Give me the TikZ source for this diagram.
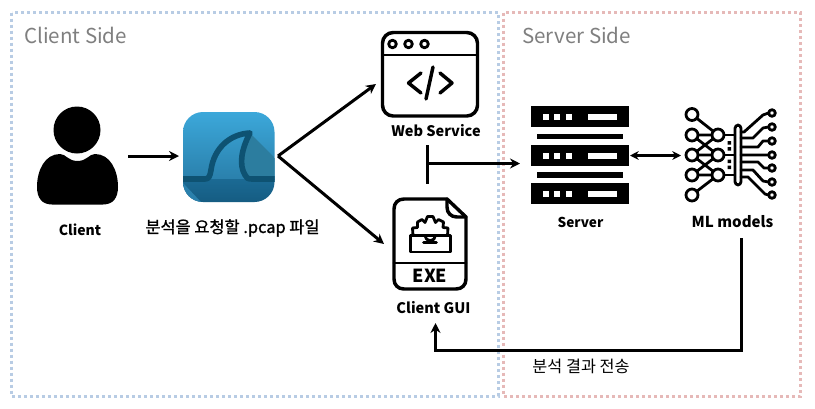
\documentclass[tikz,border=0pt]{standalone}
\usepackage{fontspec}
\setmainfont{Noto Sans CJK KR}
\newfontfamily\kofont[FakeBold=1.2]{Noto Sans CJK KR}
\definecolor{blueb}{HTML}{B8CCE4}
\definecolor{redb}{HTML}{E6B9B8}
\definecolor{titlegray}{HTML}{7F7F7F}
\definecolor{sharktop}{HTML}{3CA8DA}
\definecolor{sharkmid}{HTML}{2A80AC}
\definecolor{sharkbot}{HTML}{155C82}
\definecolor{sharkbotb}{HTML}{1B6A94}
\definecolor{sharkline}{HTML}{0E5272}
\definecolor{sharkshade}{HTML}{2C7D9F}
\usetikzlibrary{arrows.meta}
\tikzset{
  x=0.75pt,y=-0.75pt,
  zone/.style={line width=2.25pt,dash pattern=on 2.25pt off 2.25pt},
  ztitle/.style={text=titlegray,font=\fontsize{15.4}{15}\selectfont,inner sep=0,anchor=west},
  lbl/.style={font=\fontsize{#1}{12}\selectfont\bfseries,inner sep=0,text=black},
  conn/.style={line width=2.25pt,-{Stealth[length=7.5pt,width=7.5pt]}},
  plain/.style={line width=2.25pt},
  icon/.style={line width=2.6pt,line join=round,line cap=round},
  thinicon/.style={line width=2.1pt,line join=round,line cap=round},
}
\begin{document}
\begin{tikzpicture}
\useasboundingbox (0,0) rectangle (815,408);
\fill[white] (0,0) rectangle (815,408);
% zones
\draw[zone,blueb] (11.5,12.5) rectangle (498,396);
\draw[zone,redb] (503.5,12.5) rectangle (800.5,396);
\node[ztitle] (clientside) at (24,35) {Client Side};
\node[ztitle] (serverside) at (522,35) {Server Side};
% client person
\fill[black] (77,130) circle (23.5);
\fill[black] (37,187) .. controls (37,170) and (45,154) .. (60,154)
  .. controls (66,154) and (68,161) .. (77.5,161)
  .. controls (87,161) and (89,154) .. (95,154)
  .. controls (110,154) and (118,170) .. (118,187)
  .. controls (118,198) and (113,204.5) .. (103,204.5)
  -- (52,204.5) .. controls (42,204.5) and (37,198) .. (37,187) -- cycle;
\node[lbl=10.5] (client) at (80,229.5) {Client};
% wireshark
\begin{scope}
\clip[rounded corners=15] (183,112) rectangle (274.5,202);
\shade[top color=sharktop,bottom color=sharkmid] (183,112) rectangle (275,179);
\fill[sharkshade] (250,133) -- (275,158) -- (275,179) -- (247,179) .. controls (241,168) and (241,150) .. (250,133) -- cycle;
\shade[top color=sharkbotb,bottom color=sharkbot] (183,179) rectangle (275,202);
\fill[sharkmid] (183,183) -- (201,202) -- (183,202) -- cycle;
\draw[sharkline,line width=4.2pt,line join=round] (183,179) -- (205,179)
  .. controls (209,179) and (210,176) .. (211,170)
  .. controls (214,148) and (230,134) .. (250,133)
  .. controls (241,150) and (239,165) .. (245,175)
  .. controls (246,178) and (248,179) .. (252,179) -- (275,179);
\end{scope}
\node[inner sep=0,font=\fontsize{12.3}{12}\selectfont] (pcap) at (232.5,228) {\kofont 분석을 요청할 .pcap 파일};
% web service icon
\draw[icon,rounded corners=8] (382.5,32.5) rectangle (477.5,116);
\draw[thinicon] (382.5,55) -- (477.5,55);
\foreach \px in {392.5,408.5,424.5} \draw[thinicon] (\px,44) circle (3.8);
\draw[icon] (421,73) -- (408.5,83) -- (421,93);
\draw[icon] (440,73) -- (452,83) -- (440,93);
\draw[icon] (433,67) -- (426,99);
\node[lbl=10.9] (web) at (436,131) {Web Service};
% exe icon
\draw[icon] (447,199) -- (404,199) .. controls (398,199) and (394,203) .. (394,209)
  -- (394,279) .. controls (394,285) and (398,289) .. (404,289) -- (456,289)
  .. controls (462,289) and (466,285) .. (466,279) -- (466,217) -- cycle;
\draw[icon] (447,199) -- (447,207) .. controls (447,213) and (451,217) .. (457,217) -- (466,217);
\draw[thinicon] (394,263) -- (466,263);
\draw[thinicon] (410.5,235.5) rectangle (450.5,252);
\draw[thinicon] (423.5,242.5) -- (436.5,242.5);
\draw[thinicon] (413,235.5) -- (412.5,228) -- (417.5,227.5) -- (417.5,222) -- (422,219.5) -- (425,222.5)
  -- (427.5,216.5) -- (433,216.5) -- (435.5,222.5) -- (438.5,219.5) -- (443.5,222) -- (443,227.5) -- (448,228) -- (447.5,235.5);
\draw[thinicon] (425,235.5) arc[start angle=180,end angle=0,radius=5.2];
\node[font=\fontsize{13.5}{13.5}\selectfont\bfseries,inner sep=0] (exe) at (430,276) {EXE};
\node[lbl=10.9] (gui) at (433.5,308) {Client GUI};
% server icon
\foreach \ty in {106,144.5,183} {
  \fill[black] (531,\ty) rectangle (629,\ty+21);
  \fill[white] (543,\ty+8) rectangle (549,\ty+14);
  \fill[white] (554,\ty+8) rectangle (560,\ty+14);
  \fill[white] (565.5,\ty+8) rectangle (571.5,\ty+14);
  \fill[white] (588,\ty+8) rectangle (617,\ty+14);
}
\fill[black] (537,133.5) rectangle (623,139);
\fill[black] (537,172) rectangle (623,177.5);
\node[lbl=10.2] (server) at (580.5,222) {Server};
% ML icon
\draw[thinicon] (692,114.5) -- (718,135) (692,135) -- (718,135) (692,135) -- (718,155)
  (692,155) -- (718,135) (692,155) -- (718,155) (692,155) -- (718,175)
  (692,175) -- (718,155) (692,175) -- (718,175) (692,195) -- (718,175);
\draw[thinicon] (718,135) -- (738,135) (718,155) -- (738,155) (718,175) -- (738,175);
\foreach \py in {114.5,135,155,175,195} \draw[thinicon,fill=white] (692,\py) circle (6);
\foreach \py in {135,155,175} \draw[thinicon,fill=white] (718,\py) circle (6);
\fill[black] (727.5,141) rectangle (731,144.5) (727.5,147) rectangle (731,150.5);
\fill[black] (727.5,159.5) rectangle (731,163) (727.5,165.5) rectangle (731,169);
\draw[thinicon,fill=white,rounded corners=2.5] (735,125) rectangle (741,185);
\draw[thinicon] (741,132) -- (744,132) -- (763,115) -- (768.5,113)
  (741,138) -- (753,138) -- (763,128) -- (768.5,127)
  (741,147) -- (758,147) -- (763,141) -- (768.5,141)
  (741,155) -- (768.5,155)
  (741,162) -- (758,162) -- (764,168) -- (768.5,168)
  (741,170) -- (753,170) -- (763,181) -- (768.5,182)
  (741,177) -- (748,177) -- (765,194) -- (768.5,195);
\foreach \py in {113,127,141,155,168,182,195} \draw[thinicon,fill=white] (772,\py) circle (3.3);
\node[lbl=11.3] (ml) at (732.5,222) {ML models};
% connector anchors
\coordinate (clientout) at (128,156);
\coordinate (pcapin) at (179,156);
\coordinate (pcapout) at (278,156);
\coordinate (webin) at (376,84);
\coordinate (guiin) at (384,244);
\coordinate (jointop) at (427.5,145);
\coordinate (joinbot) at (427.5,184);
\coordinate (joinmid) at (427.5,163.5);
\coordinate (serverin) at (520,163.5);
\coordinate (serverout) at (630,155.5);
\coordinate (mlin) at (681,155.5);
\coordinate (mlout) at (741,238);
\coordinate (guiout) at (435.5,323);
% connectors
\draw[conn] (clientout) -- (pcapin);
\draw[conn] (pcapout) -- (webin);
\draw[conn] (pcapout) -- (guiin);
\draw[plain] (jointop) -- (joinbot);
\draw[conn] (joinmid) -- (serverin);
\draw[line width=2.25pt,{Stealth[length=6.5pt,width=6.5pt]}-{Stealth[length=6.5pt,width=6.5pt]}] (serverout) -- (mlin);
\draw[conn] (mlout) |- (guiout |- 0,350) -- (guiout);
\node[inner sep=0,font=\fontsize{12.2}{12}\selectfont] (result) at (581,366) {분석 결과 전송};
\end{tikzpicture}
\end{document}
